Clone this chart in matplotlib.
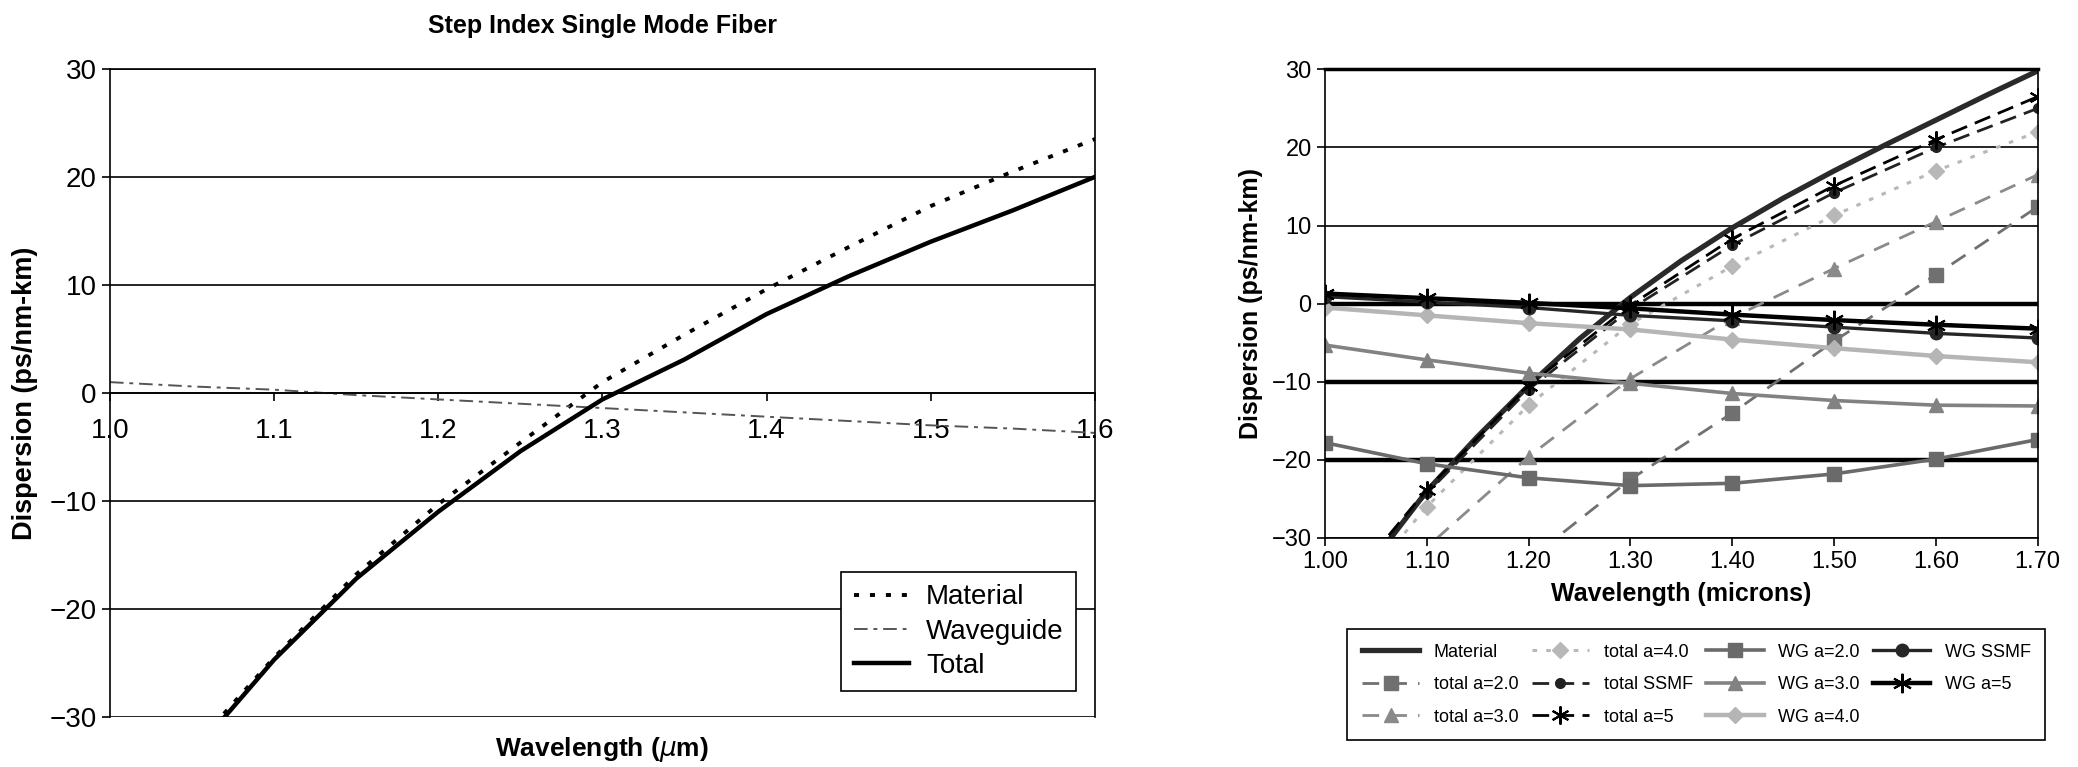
import numpy as np
import matplotlib
matplotlib.use("Agg")
import matplotlib.pyplot as plt

plt.rcParams['font.family'] = ['Liberation Sans', 'DejaVu Sans']
narrow = ['Liberation Sans Narrow', 'Liberation Sans', 'DejaVu Sans']

# ---- left panel data (step index SMF) ----
wl_left = [1.05, 1.10, 1.15, 1.20, 1.25, 1.30, 1.35, 1.40, 1.45, 1.50, 1.55, 1.60]
material_left = [-33.0, -24.5, -16.8, -10.3, -4.6, 1.0, 5.4, 9.6, 13.5, 17.3, 20.5, 23.5]
total_left = [-33.5, -24.7, -17.2, -11.0, -5.4, -0.6, 3.1, 7.3, 10.8, 14.0, 16.9, 20.0]
wl_wg_left = [1.00, 1.05, 1.10, 1.15, 1.20, 1.25, 1.30, 1.35, 1.40, 1.45, 1.50, 1.55, 1.60]
waveguide_left = [1.0, 0.6, 0.3, -0.2, -0.6, -1.0, -1.4, -1.8, -2.2, -2.6, -3.0, -3.3, -3.7]

# ---- right panel data ----
wl_mat = [1.00, 1.05, 1.10, 1.15, 1.20, 1.25, 1.30, 1.35, 1.40, 1.45, 1.50, 1.55, 1.60, 1.65, 1.70]
material = [-40.5, -32.5, -24.0, -17.0, -10.5, -4.5, 0.8, 5.5, 9.7, 13.5, 17.0, 20.3, 23.5, 26.7, 29.8]

wl = [1.00, 1.10, 1.20, 1.30, 1.40, 1.50, 1.60, 1.70]
total_a2 = [-59.0, -44.5, -32.8, -22.5, -14.0, -4.8, 3.7, 12.4]
total_a3 = [-46.0, -31.2, -19.6, -9.6, -1.8, 4.5, 10.5, 16.5]
total_a4 = [-41.5, -26.0, -13.0, -2.6, 4.8, 11.3, 17.0, 22.0]
total_ssmf = [-40.0, -24.3, -11.0, -0.7, 7.5, 14.2, 20.0, 25.0]
total_a5 = [-39.5, -23.8, -10.5, -0.2, 8.3, 15.1, 21.0, 26.5]
wg_a2 = [-17.8, -20.5, -22.3, -23.3, -23.0, -21.8, -19.9, -17.4]
wg_a3 = [-5.3, -7.2, -8.9, -10.2, -11.5, -12.4, -13.0, -13.1]
wg_a4 = [-0.5, -1.5, -2.5, -3.3, -4.6, -5.7, -6.7, -7.5]
wg_ssmf = [0.9, 0.2, -0.5, -1.5, -2.2, -3.0, -3.8, -4.4]
wg_a5 = [1.3, 0.7, 0.1, -0.6, -1.4, -2.1, -2.7, -3.2]

ytick_vals = [-30, -20, -10, 0, 10, 20, 30]
ytick_text = ['\u221230', '\u221220', '\u221210', '0', '10', '20', '30']
asterisk = (6, 2, 0)

fig = plt.figure(figsize=(20.78, 7.67), dpi=100)

# ================= left =================
ax1 = fig.add_axes([0.0529, 0.0652, 0.474, 0.845])
ax1.plot(wl_left, material_left, color='black', lw=2.8, ls=(0, (1.3, 2.8)), label='Material')
ax1.plot(wl_wg_left, waveguide_left, color='#555555', lw=1.4, ls=(0, (7, 3, 2, 3)), label='Waveguide')
ax1.plot(wl_left, total_left, color='black', lw=3.2, label='Total')
ax1.set_xlim(1.0, 1.6)
ax1.set_ylim(-30, 30)
ax1.set_xticks([1.0, 1.1, 1.2, 1.3, 1.4, 1.5, 1.6])
ax1.set_xticklabels(['1.0', '1.1', '1.2', '1.3', '1.4', '1.5', '1.6'], family=narrow)
ax1.set_yticks(ytick_vals)
ax1.set_yticklabels(ytick_text, family=narrow)
ax1.spines['bottom'].set_position(('data', 0))
for s in ax1.spines.values():
    s.set_linewidth(1.2)
ax1.yaxis.grid(True, color='black', lw=1.2)
ax1.set_axisbelow(True)
ax1.tick_params(axis='both', labelsize=20, length=6, width=1.2, direction='out')
ax1.tick_params(axis='x', pad=12)
ax1.set_title('Step Index Single Mode Fiber', fontsize=18, fontweight='bold', pad=26, family=narrow)
ax1.set_ylabel('Dispersion (ps/nm-km)', fontsize=19.5, fontweight='bold', labelpad=8)
ax1.text(0.5, -0.028, r'Wavelength ($\mu$m)', transform=ax1.transAxes, ha='center', va='top',
         fontsize=19, fontweight='bold', family=narrow)
leg1 = ax1.legend(loc='lower right', bbox_to_anchor=(0.995, 0.018), fontsize=20, fancybox=False,
                  edgecolor='black', framealpha=1, handlelength=2.0, borderpad=0.45,
                  labelspacing=0.3, handletextpad=0.6, prop={'family': narrow, 'size': 20})
leg1.get_frame().set_linewidth(1.2)

# ================= right =================
ax2 = fig.add_axes([0.6376, 0.2986, 0.343, 0.611])
ax2.plot(wl_mat, material, color='#2a2a2a', lw=3.8, label='Material')
ax2.plot(wl, total_a2, color='#707070', lw=2, ls=(0, (6, 4)), marker='s', ms=10, label='total a=2.0')
ax2.plot(wl, total_a3, color='#8a8a8a', lw=2, ls=(0, (6, 4)), marker='^', ms=10, label='total a=3.0')
ax2.plot(wl, total_a4, color='#b8b8b8', lw=2.2, ls=(0, (1.5, 3)), marker='D', ms=8, label='total a=4.0')
ax2.plot(wl, total_ssmf, color='#222222', lw=2, ls=(0, (6, 3)), marker='o', ms=7, label='total SSMF')
ax2.plot(wl, total_a5, color='black', lw=2, ls=(0, (6, 3)), marker=asterisk, ms=13, mew=1.5, label='total a=5')
ax2.plot(wl, wg_a2, color='#6a6a6a', lw=2.6, marker='s', ms=10, label='WG a=2.0')
ax2.plot(wl, wg_a3, color='#828282', lw=2.6, marker='^', ms=10, label='WG a=3.0')
ax2.plot(wl, wg_a4, color='#b5b5b5', lw=3.2, marker='D', ms=8, label='WG a=4.0')
ax2.plot(wl, wg_ssmf, color='#262626', lw=2.4, marker='o', ms=9, label='WG SSMF')
ax2.plot(wl, wg_a5, color='black', lw=3.2, marker=asterisk, ms=14, mew=1.5, label='WG a=5')
ax2.set_xlim(1.0, 1.7)
ax2.set_ylim(-30, 30)
ax2.set_xticks(wl)
ax2.set_xticklabels(['%.2f' % v for v in wl])
ax2.set_yticks(ytick_vals)
ax2.set_yticklabels(ytick_text)
ax2.yaxis.grid(True, color='black', lw=1.2)
for v, gl in zip(ytick_vals, ax2.get_ygridlines()):
    if v in (0, -10, -20):
        gl.set_linewidth(3.2)
ax2.set_axisbelow(True)
for s in ax2.spines.values():
    s.set_linewidth(1.2)
ax2.spines['top'].set_linewidth(2.5)
ax2.tick_params(axis='both', labelsize=17, length=6, width=1.2, direction='out')
ax2.set_ylabel('Dispersion (ps/nm-km)', fontsize=18, fontweight='bold', labelpad=6)
ax2.set_xlabel('Wavelength (microns)', fontsize=18, fontweight='bold', labelpad=6)

handles, labels = ax2.get_legend_handles_labels()
leg2 = fig.legend(handles, labels, ncol=4, loc='lower left', mode='expand',
                  bbox_to_anchor=(0.644, 0.0235, 0.3446, 0.168), fontsize=13, fancybox=False,
                  edgecolor='black', framealpha=1, handlelength=3.2, borderpad=0.8,
                  labelspacing=0.85, columnspacing=1.0)
leg2.get_frame().set_linewidth(1.2)

fig.savefig('out.png', dpi=100)
